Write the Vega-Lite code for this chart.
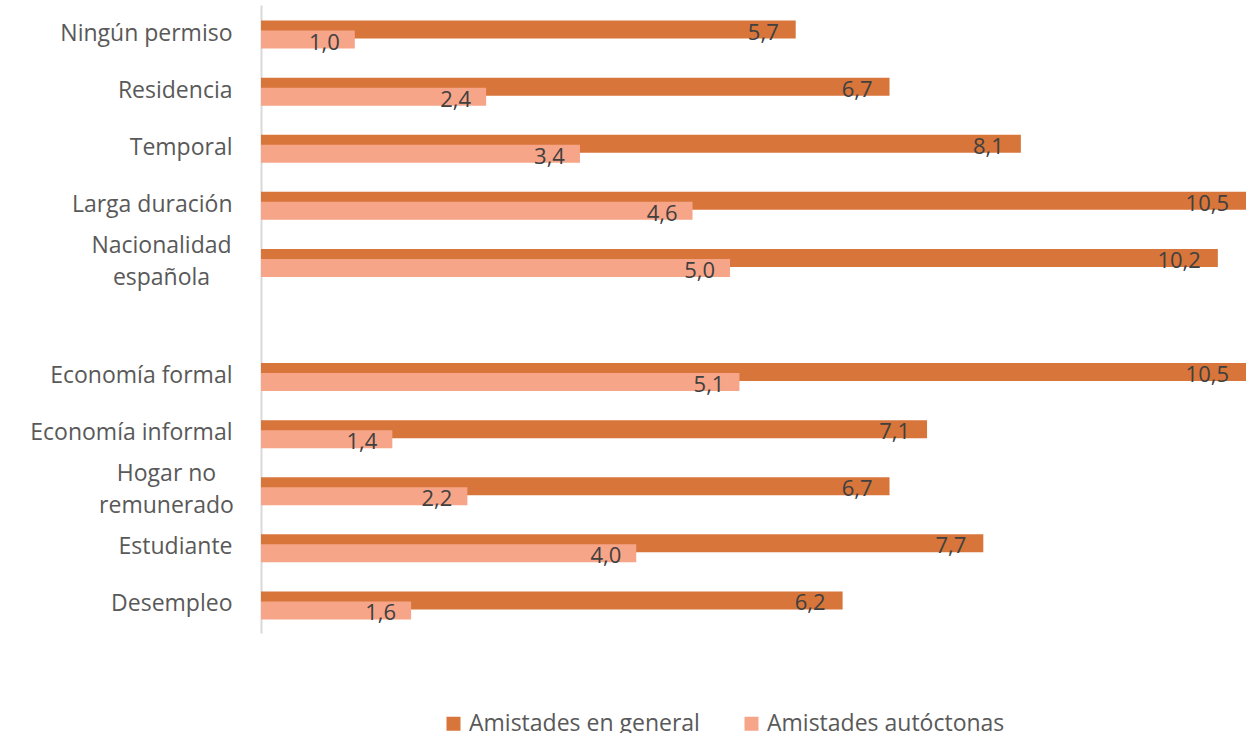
{
  "$schema": "https://vega.github.io/schema/vega-lite/v6.json",
  "width": 985,
  "height": 628,
  "autosize": {"type": "none"},
  "padding": {"left": 261, "top": 5, "right": 2, "bottom": 100},
  "background": "white",
  "config": {
    "locale": {"number": {"decimal": ",", "thousands": ".", "grouping": [3], "currency": ["", " €"]}},
    "view": {"stroke": null},
    "font": "Open Sans"
  },
  "data": {
    "values": [
      {"cat": "Ningún permiso", "serie": "Amistades en general", "valor": 5.7},
      {"cat": "Residencia", "serie": "Amistades en general", "valor": 6.7},
      {"cat": "Temporal", "serie": "Amistades en general", "valor": 8.1},
      {"cat": "Larga duración", "serie": "Amistades en general", "valor": 10.5},
      {"cat": "Nacionalidad española", "serie": "Amistades en general", "valor": 10.2},
      {"cat": "Economía formal", "serie": "Amistades en general", "valor": 10.5},
      {"cat": "Economía informal", "serie": "Amistades en general", "valor": 7.1},
      {"cat": "Hogar no remunerado", "serie": "Amistades en general", "valor": 6.7},
      {"cat": "Estudiante", "serie": "Amistades en general", "valor": 7.7},
      {"cat": "Desempleo", "serie": "Amistades en general", "valor": 6.2},
      {"cat": "Ningún permiso", "serie": "Amistades autóctonas", "valor": 1.0},
      {"cat": "Residencia", "serie": "Amistades autóctonas", "valor": 2.4},
      {"cat": "Temporal", "serie": "Amistades autóctonas", "valor": 3.4},
      {"cat": "Larga duración", "serie": "Amistades autóctonas", "valor": 4.6},
      {"cat": "Nacionalidad española", "serie": "Amistades autóctonas", "valor": 5.0},
      {"cat": "Economía formal", "serie": "Amistades autóctonas", "valor": 5.1},
      {"cat": "Economía informal", "serie": "Amistades autóctonas", "valor": 1.4},
      {"cat": "Hogar no remunerado", "serie": "Amistades autóctonas", "valor": 2.2},
      {"cat": "Estudiante", "serie": "Amistades autóctonas", "valor": 4.0},
      {"cat": "Desempleo", "serie": "Amistades autóctonas", "valor": 1.6}
    ]
  },
  "encoding": {
    "y": {
      "field": "cat",
      "type": "nominal",
      "scale": {
        "domain": ["Ningún permiso", "Residencia", "Temporal", "Larga duración", "Nacionalidad española", " ", "Economía formal", "Economía informal", "Hogar no remunerado", "Estudiante", "Desempleo"],
        "paddingInner": 0,
        "paddingOuter": 0
      },
      "axis": {
        "title": null,
        "ticks": false,
        "domainColor": "#d9d9d9",
        "domainWidth": 2,
        "labelFont": "Open Sans",
        "labelFontSize": 23,
        "labelColor": "#595959",
        "labelPadding": {"condition": [
          {"test": "datum.value == 'Nacionalidad española'", "value": 100},
          {"test": "datum.value == 'Hogar no remunerado'", "value": 95}
        ], "value": 29},
        "labelAlign": {"condition": {"test": "datum.value == 'Nacionalidad española' || datum.value == 'Hogar no remunerado'", "value": "center"}, "value": "right"},
        "labelLimit": 300,
        "labelLineHeight": 32,
        "labelOffset": {"condition": {"test": "datum.value == 'Nacionalidad española' || datum.value == 'Hogar no remunerado'", "value": -16}, "value": 0},
        "labelExpr": "datum.value == 'Nacionalidad española' ? ['Nacionalidad', 'española'] : datum.value == 'Hogar no remunerado' ? ['Hogar no', 'remunerado'] : datum.value"
      }
    },
    "x": {
      "field": "valor",
      "type": "quantitative",
      "scale": {"domain": [0, 10.5], "nice": false, "zero": true},
      "axis": null
    }
  },
  "layer": [
    {
      "transform": [{"filter": "datum.serie == 'Amistades en general'"}],
      "mark": {"type": "bar", "height": 18, "yOffset": -4},
      "encoding": {
        "color": {
          "field": "serie",
          "type": "nominal",
          "scale": {"domain": ["Amistades en general", "Amistades autóctonas"], "range": ["#D7753A", "#F7A589"]},
          "legend": {
            "title": null,
            "orient": "none",
            "direction": "horizontal",
            "columns": 2,
            "legendX": 181,
            "legendY": 707,
            "padding": 0,
            "symbolType": "square",
            "symbolSize": 196,
            "symbolStrokeWidth": 0,
            "labelFont": "Open Sans",
            "labelFontSize": 23,
            "labelColor": "#595959",
            "labelOffset": 4,
            "columnPadding": 40,
            "labelLimit": 400
          }
        }
      }
    },
    {
      "transform": [{"filter": "datum.serie == 'Amistades autóctonas'"}],
      "mark": {"type": "bar", "height": 18, "yOffset": 6},
      "encoding": {
        "color": {"field": "serie", "type": "nominal"}
      }
    },
    {
      "transform": [{"filter": "datum.serie == 'Amistades en general'"}],
      "mark": {"type": "text", "align": "right", "baseline": "alphabetic", "dx": -17, "dy": 6, "font": "Open Sans", "fontSize": 22, "color": "#404040"},
      "encoding": {
        "text": {"field": "valor", "type": "quantitative", "format": ".1f"}
      }
    },
    {
      "transform": [{"filter": "datum.serie == 'Amistades autóctonas'"}],
      "mark": {"type": "text", "align": "right", "baseline": "alphabetic", "dx": -15, "dy": 16, "font": "Open Sans", "fontSize": 22, "color": "#404040"},
      "encoding": {
        "text": {"field": "valor", "type": "quantitative", "format": ".1f"}
      }
    }
  ]
}
